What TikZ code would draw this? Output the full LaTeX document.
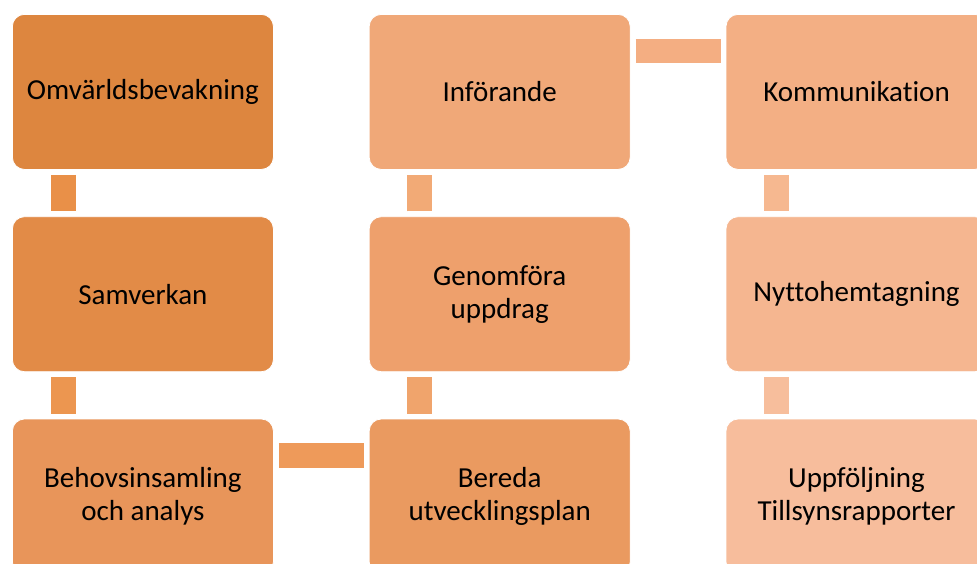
\documentclass[tikz,border=0pt]{standalone}
\usepackage{fontspec}
\setmainfont[Ligatures=NoCommon]{Carlito}
\usetikzlibrary{positioning}
\definecolor{cA}{RGB}{221,134,63}
\definecolor{cB}{RGB}{226,139,71}
\definecolor{cC}{RGB}{232,149,90}
\definecolor{cD}{RGB}{234,154,96}
\definecolor{cE}{RGB}{238,160,108}
\definecolor{cF}{RGB}{240,168,120}
\definecolor{cG}{RGB}{243,175,132}
\definecolor{cH}{RGB}{245,182,144}
\definecolor{cI}{RGB}{247,189,156}
\definecolor{lA}{RGB}{233,144,72}
\definecolor{lB}{RGB}{236,150,80}
\definecolor{lC}{RGB}{238,154,90}
\definecolor{lD}{RGB}{240,164,108}
\definecolor{lE}{RGB}{242,170,118}
\definecolor{lF}{RGB}{244,174,130}
\definecolor{lG}{RGB}{246,184,144}
\definecolor{lH}{RGB}{247,190,156}
\tikzset{
  stepbox/.style={draw=white,line width=0.8pt,rounded corners=12pt,
                  minimum width=261pt,minimum height=155pt,inner sep=0pt,
                  align=center,font=\fontsize{29}{33}\selectfont},
  vlink/.style={line width=25pt,shorten <=5pt,shorten >=5pt},
  hlink/.style={line width=24.5pt,shorten <=5pt,shorten >=5pt},
}
\begin{document}
\begin{tikzpicture}[node distance=46.5pt and 95pt]
    \useasboundingbox (0,0) rectangle (977pt,-563pt);
    \node[stepbox,fill=cA,anchor=north west] (om) at (12pt,-14pt) {Omvärldsbevakning};
    \node[stepbox,fill=cB,below=of om] (sam) {Samverkan};
    \node[stepbox,fill=cC,below=of sam] (beh) {Behovsinsamling\\och analys};
    \node[stepbox,fill=cD,right=of beh] (ber) {Bereda\\utvecklingsplan};
    \node[stepbox,fill=cE,above=of ber] (gen) {Genomföra\\uppdrag};
    \node[stepbox,fill=cF,above=of gen] (inf) {Införande};
    \node[stepbox,fill=cG,right=of inf] (kom) {Kommunikation};
    \node[stepbox,fill=cH,below=of kom] (nyt) {Nyttohemtagning};
    \node[stepbox,fill=cI,below=of nyt] (upp) {Uppföljning\\Tillsynsrapporter};
    \draw[vlink,lA] ([xshift=51pt]om.south west) -- ([xshift=51pt]sam.north west);
    \draw[vlink,lB] ([xshift=51pt]sam.south west) -- ([xshift=51pt]beh.north west);
    \draw[hlink,lC] ([yshift=-37pt]beh.north east) -- ([yshift=-37pt]ber.north west);
    \draw[vlink,lD] ([xshift=51pt]ber.north west) -- ([xshift=51pt]gen.south west);
    \draw[vlink,lE] ([xshift=51pt]gen.north west) -- ([xshift=51pt]inf.south west);
    \draw[hlink,lF] ([yshift=-37pt]inf.north east) -- ([yshift=-37pt]kom.north west);
    \draw[vlink,lG] ([xshift=51pt]kom.south west) -- ([xshift=51pt]nyt.north west);
    \draw[vlink,lH] ([xshift=51pt]nyt.south west) -- ([xshift=51pt]upp.north west);
\end{tikzpicture}
\end{document}
